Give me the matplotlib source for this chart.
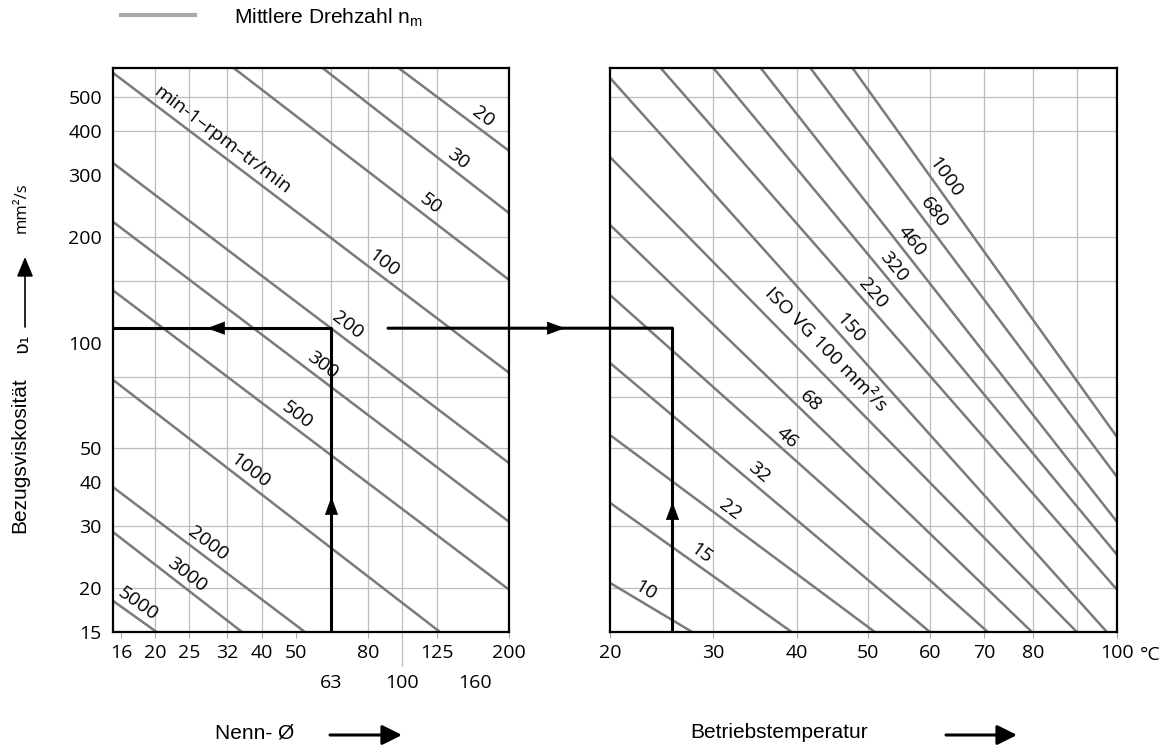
import numpy as np
import matplotlib
matplotlib.use("Agg")
import matplotlib.pyplot as plt
from matplotlib.patches import ConnectionPatch, FancyArrowPatch
from matplotlib.lines import Line2D
from matplotlib.ticker import FixedLocator, FixedFormatter, NullLocator

plt.rcParams['font.family'] = ['Open Sans', 'DejaVu Sans']

# left chart: nominal diameter (mm) vs reference viscosity, one line per speed (min-1)
speeds = ["20", "30", "50", "100", "200", "300", "500", "1000", "2000", "3000", "5000"]
speed_d0 = [97.1, 59.2, 33.2, 15.2, 15.2, 15.2, 15.2, 15.2, 15.2, 15.2, 15.2]
speed_v0 = [608, 608, 608, 587, 325, 221, 141, 78.4, 38.8, 28.9, 18.4]
speed_d1 = [200, 200, 200, 200, 200, 200, 200, 127.7, 53.0, 35.2, 20.2]
speed_v1 = [352, 234, 151, 82.1, 45.4, 30.9, 19.8, 15, 15, 15, 15]
speed_label_d = [161.4, 137.1, 114.3, 84.2, 66.6, 56.6, 48.1, 35.4, 26.9, 23.5, 17.1]

# right chart: operating temperature vs viscosity, one line per ISO VG grade
grades = ["1000", "680", "460", "320", "220", "150", "ISO VG 100 mm²/s",
          "68", "46", "32", "22", "15", "10"]
grade_t0 = [47.6, 41.7, 35.4, 30.0, 24.6, 20, 20, 20, 20, 20, 20, 20, 20]
grade_v0 = [608, 608, 608, 608, 608, 568, 338, 216.6, 136.8, 87.6, 54.6, 35.0, 20.7]
grade_t1 = [100, 100, 100, 100, 100, 97.4, 90.0, 79.8, 70.7, 60.0, 51.0, 39.3, 27.8]
grade_v1 = [53.9, 41.5, 30.9, 24.9, 19.8, 15, 15, 15, 15, 15, 15, 15, 15]
grade_label_t = [61.0, 59.0, 55.4, 52.5, 49.4, 46.1, 42.0, 40.6, 37.8, 34.3, 31.1, 28.0, 22.6]

# worked example
d_sel = 63
v_sel = 110
t_sel = 25.8
d_start = 91

d_ticks = [16, 20, 25, 32, 40, 50, 80, 125, 200]
d_ticks_low = [63, 100, 160]
v_ticks = [15, 20, 30, 40, 50, 100, 200, 300, 400, 500]
t_ticks = [20, 30, 40, 50, 60, 70, 80, 100]
d_grid = [20, 25, 32, 40, 63, 80, 100, 125]
v_grid = [20, 30, 50, 70, 80, 150, 200, 400, 500]
t_grid = [30, 40, 50, 60, 70, 80, 90]

GRAY = '#7a7a7a'
GRID = '#bdbdbd'
W, H = 1168, 746


def box(x0, y0, x1, y1):
    return [x0 / W, 1 - y1 / H, (x1 - x0) / W, (y1 - y0) / H]


def line_label(ax, x0, y0, x1, y1, xl, text, off=8.5, size=14):
    p0 = ax.transData.transform((x0, y0))
    p1 = ax.transData.transform((x1, y1))
    ang = np.degrees(np.arctan2(p1[1] - p0[1], p1[0] - p0[0]))
    px = ax.transData.transform((xl, y0))[0]
    frac = (px - p0[0]) / (p1[0] - p0[0])
    py = p0[1] + frac * (p1[1] - p0[1])
    foot = ax.transData.inverted().transform((px, py))
    a = np.radians(ang)
    ax.annotate(text, xy=foot, xytext=(-off * np.sin(a), off * np.cos(a)),
                textcoords='offset points', rotation=ang, rotation_mode='anchor',
                ha='center', va='center', fontsize=size, zorder=5)


def head(ax, x, y, dx, dy):
    ax.annotate('', xy=(x, y), xytext=(-dx * 12, -dy * 12), textcoords='offset points',
                annotation_clip=False,
                arrowprops=dict(arrowstyle='-|>,head_length=0.6,head_width=0.22',
                                mutation_scale=20, color='k', lw=0.5,
                                shrinkA=0, shrinkB=0), zorder=6)


fig = plt.figure(figsize=(11.68, 7.46), dpi=100)
ax1 = fig.add_axes(box(113, 67.5, 509, 632))
ax2 = fig.add_axes(box(610, 67.5, 1117, 632))

ax1.set_xscale('log')
ax1.set_yscale('log')
ax1.set_xlim(15.2, 200)
ax1.set_ylim(15, 608)

ax2.set_xscale('function', functions=(lambda t: np.log10(np.asarray(t) + 20),
                                      lambda u: 10 ** np.asarray(u) - 20))
ax2.set_yscale('log')
ax2.set_xlim(20, 100)
ax2.set_ylim(15, 608)

for ax in (ax1, ax2):
    for s in ax.spines.values():
        s.set_linewidth(1.6)
        s.set_zorder(7)
    ax.yaxis.set_major_locator(FixedLocator(v_ticks))
    ax.yaxis.set_major_formatter(FixedFormatter([str(v) for v in v_ticks]))
    ax.yaxis.set_minor_locator(NullLocator())
    ax.tick_params(axis='y', length=0, pad=8, labelsize=14)
    ax.tick_params(axis='x', which='major', length=4, width=0.8, color='#aaaaaa',
                   pad=5, labelsize=14)
    for v in v_grid:
        ax.axhline(v, color=GRID, lw=0.9, zorder=1)
ax2.tick_params(axis='y', labelleft=False)

ax1.xaxis.set_major_locator(FixedLocator(d_ticks))
ax1.xaxis.set_major_formatter(FixedFormatter([str(d) for d in d_ticks]))
ax1.xaxis.set_minor_locator(FixedLocator(d_ticks_low))
ax1.xaxis.set_minor_formatter(FixedFormatter([str(d) for d in d_ticks_low]))
ax1.tick_params(axis='x', which='minor', length=0, pad=30, labelsize=14)
ax2.xaxis.set_major_locator(FixedLocator(t_ticks))
ax2.xaxis.set_major_formatter(FixedFormatter([str(t) for t in t_ticks]))
ax2.xaxis.set_minor_locator(NullLocator())

for d in d_grid:
    ax1.axvline(d, color=GRID, lw=0.9, zorder=1)
for t in t_grid:
    ax2.axvline(t, color=GRID, lw=0.9, zorder=1)
ax1.plot([100, 100], [0, -0.06], transform=ax1.get_xaxis_transform(),
         color=GRID, lw=0.9, clip_on=False)

for i in range(len(speeds)):
    ax1.plot([speed_d0[i], speed_d1[i]], [speed_v0[i], speed_v1[i]],
             color=GRAY, lw=1.8, zorder=2, solid_capstyle='butt')
    line_label(ax1, speed_d0[i], speed_v0[i], speed_d1[i], speed_v1[i],
               speed_label_d[i], speeds[i])
line_label(ax1, speed_d0[3], speed_v0[3], speed_d1[3], speed_v1[3], 29.5,
           "min-1–rpm–tr/min")

for i in range(len(grades)):
    ax2.plot([grade_t0[i], grade_t1[i]], [grade_v0[i], grade_v1[i]],
             color=GRAY, lw=1.8, zorder=2, solid_capstyle='butt')
    off = 13.5 if grades[i].startswith("ISO") else 8.5
    line_label(ax2, grade_t0[i], grade_v0[i], grade_t1[i], grade_v1[i],
               grade_label_t[i], grades[i], off=off)

# worked example: diameter -> viscosity -> temperature
ax1.plot([15.2, d_sel, d_sel], [v_sel, v_sel, 15], color='k', lw=2.2, zorder=4,
         clip_on=False, solid_capstyle='butt')
ax2.plot([t_sel, t_sel], [v_sel, 15], color='k', lw=2.2, zorder=4, clip_on=False,
         solid_capstyle='butt')
con = ConnectionPatch(xyA=(d_start, v_sel), coordsA='data', axesA=ax1,
                      xyB=(t_sel, v_sel), coordsB='data', axesB=ax2,
                      color='k', lw=2.2, zorder=4)
fig.add_artist(con)
head(ax1, 28.0, v_sel, -1, 0)
head(ax1, d_sel, 36.4, 0, 1)
head(ax1, 288, v_sel, 1, 0)
head(ax2, t_sel, 35.2, 0, 1)

fig.text(1150 / W, 1 - 655 / H, "°C", fontsize=14, ha='center', va='center')

# legend
fig.add_artist(Line2D([121 / W, 195 / W], [1 - 15 / H, 1 - 15 / H], color='#a8a8a8', lw=3))
fig.text(234 / W, 1 - 18 / H, r"Mittlere Drehzahl n$_\mathregular{m}$",
         family='Liberation Sans', fontsize=15, ha='left', va='center')

# axis titles
fig.text(20 / W, 1 - 455 / H, "Bezugsviskosität", family='Liberation Sans',
         fontsize=15, rotation=90, ha='center', va='center')
fig.text(22 / W, 1 - 343 / H, "ʋ₁", family='DejaVu Sans', fontsize=14,
         rotation=90, ha='center', va='center')
fig.text(22 / W, 1 - 208 / H, "mm²/s", fontsize=12, rotation=90,
         ha='center', va='center')
fig.text(215 / W, 1 - 733 / H, "Nenn- Ø", family='Liberation Sans', fontsize=15,
         ha='left', va='center')
fig.text(690 / W, 1 - 733 / H, "Betriebstemperatur", family='Liberation Sans',
         fontsize=15, ha='left', va='center')

arrow = dict(arrowstyle='-|>,head_length=0.6,head_width=0.3', mutation_scale=20,
             color='k', lw=2.2, shrinkA=0, shrinkB=0)
for x0, x1, y in [(330, 402, 735), (946, 1017, 735)]:
    fig.add_artist(FancyArrowPatch((x0 / W, 1 - y / H), (x1 / W, 1 - y / H),
                                   transform=fig.transFigure, **arrow))
fig.add_artist(FancyArrowPatch(
    (25 / W, 1 - 327 / H), (25 / W, 1 - 257 / H), transform=fig.transFigure,
    arrowstyle='-|>,head_length=0.6,head_width=0.25', mutation_scale=20,
    color='k', lw=1.2, shrinkA=0, shrinkB=0))

fig.savefig("out.png", dpi=100)
